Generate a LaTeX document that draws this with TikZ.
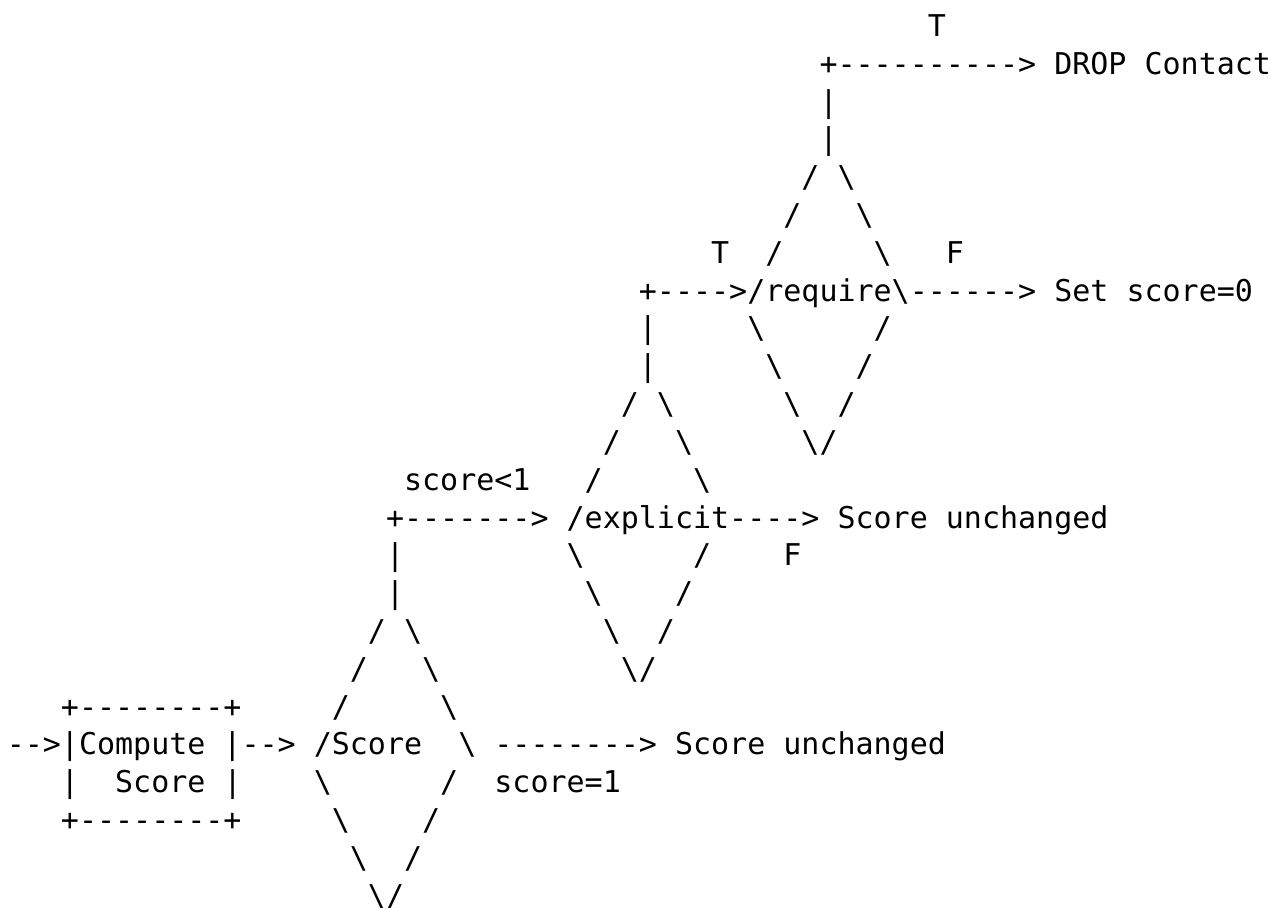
\documentclass[tikz,border=0pt]{standalone}
\usepackage{fontspec}
\setmonofont{DejaVu Sans Mono}
\usepackage{tikz}
\tikzset{
    ascii/.style={anchor=base west,inner sep=0pt,outer sep=0pt},
    side/.style={ascii},
    flow/.style={ascii},
    cond/.style={ascii},
    result/.style={ascii}
}

\begin{document}
\begin{tikzpicture}[x=9.03pt,y=-18.91pt,font=\ttfamily\fontsize{15}{18.91}\selectfont]
\useasboundingbox(-0.375,-0.9625)rectangle(70,23.02);
% require
\node[cond](tDrop)at(51,0){T};
\node[flow](fDrop)at(45,1){+---------->};
\node[result](drop)at(58,1){DROP Contact};
\node[flow](vDropA)at(45,2){|};
\node[flow](vDropB)at(45,3){|};
\node[side](rqA)at(44,4){/};
\node[side](rqB)at(46,4){\textbackslash};
\node[side](rqC)at(43,5){/};
\node[side](rqD)at(47,5){\textbackslash};
\node[cond](tReq)at(39,6){T};
\node[side](rqE)at(42,6){/};
\node[side](rqF)at(48,6){\textbackslash};
\node[cond](fReq)at(52,6){F};
\node[flow](toReq)at(35,7){+---->};
\node[ascii](require)at(41,7){/require\textbackslash};
\node[flow](fZero)at(50,7){------>};
\node[result](setzero)at(58,7){Set score=0};
\node[flow](vReqA)at(35,8){|};
\node[side](rqG)at(41,8){\textbackslash};
\node[side](rqH)at(48,8){/};
\node[flow](vReqB)at(35,9){|};
\node[side](rqI)at(42,9){\textbackslash};
\node[side](rqJ)at(47,9){/};
\node[side](rqK)at(43,10){\textbackslash};
\node[side](rqL)at(46,10){/};
\node[side](rqM)at(44,11){\textbackslash/};
% explicit
\node[side](exA)at(34,10){/};
\node[side](exB)at(36,10){\textbackslash};
\node[side](exC)at(33,11){/};
\node[side](exD)at(37,11){\textbackslash};
\node[cond](ltOne)at(22,12){score<1};
\node[side](exE)at(32,12){/};
\node[side](exF)at(38,12){\textbackslash};
\node[flow](toExp)at(21,13){+------->};
\node[ascii](explicit)at(31,13){/explicit};
\node[flow](fKeepA)at(40,13){---->};
\node[result](keepA)at(46,13){Score unchanged};
\node[flow](vExpA)at(21,14){|};
\node[side](exG)at(31,14){\textbackslash};
\node[side](exH)at(38,14){/};
\node[cond](fExp)at(43,14){F};
\node[flow](vExpB)at(21,15){|};
\node[side](exI)at(32,15){\textbackslash};
\node[side](exJ)at(37,15){/};
\node[side](exK)at(33,16){\textbackslash};
\node[side](exL)at(36,16){/};
\node[side](exM)at(34,17){\textbackslash/};
% score
\node[side](scA)at(20,16){/};
\node[side](scB)at(22,16){\textbackslash};
\node[side](scC)at(19,17){/};
\node[side](scD)at(23,17){\textbackslash};
\node[ascii](boxTop)at(3,18){+--------+};
\node[side](scE)at(18,18){/};
\node[side](scF)at(24,18){\textbackslash};
\node[flow](in)at(0,19){-->};
\node[ascii](compute)at(3,19){|Compute |};
\node[flow](toScore)at(13,19){-->};
\node[ascii](score)at(17,19){/Score};
\node[side](scG)at(25,19){\textbackslash};
\node[flow](fKeepB)at(27,19){-------->};
\node[result](keepB)at(37,19){Score unchanged};
\node[ascii](boxL)at(3,20){|};
\node[ascii](computeB)at(6,20){Score};
\node[ascii](boxR)at(12,20){|};
\node[side](scH)at(17,20){\textbackslash};
\node[side](scI)at(24,20){/};
\node[cond](eqOne)at(27,20){score=1};
\node[ascii](boxBot)at(3,21){+--------+};
\node[side](scJ)at(18,21){\textbackslash};
\node[side](scK)at(23,21){/};
\node[side](scL)at(19,22){\textbackslash};
\node[side](scM)at(22,22){/};
\node[side](scN)at(20,23){\textbackslash/};
\end{tikzpicture}
\end{document}
